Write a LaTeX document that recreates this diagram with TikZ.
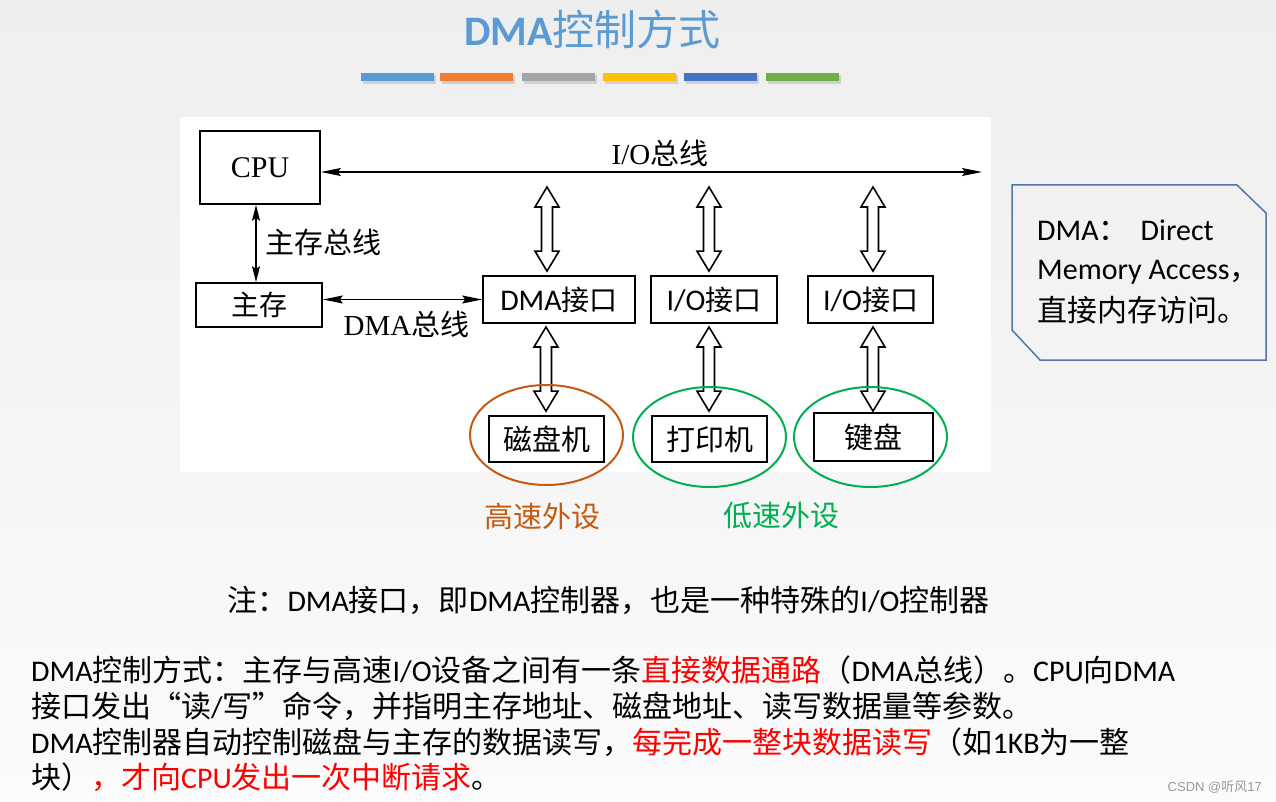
\documentclass[tikz,border=0pt]{standalone}
\usepackage{fontspec}
\setmainfont{Noto Sans CJK SC}
\newfontfamily\latfont{Carlito}
\newfontfamily\serfont{Liberation Serif}
\newfontfamily\arialfont{Liberation Sans}
\usetikzlibrary{arrows.meta,calc,shapes.geometric}
\newcommand\cLat[1]{{\latfont #1}}
\newcommand\cSer[1]{{\serfont #1}}
\newcommand\fsz[1]{\fontsize{#1pt}{#1pt}\selectfont}
\definecolor{titleblue}{RGB}{91,155,213}
\definecolor{barA}{RGB}{91,155,213}
\definecolor{barB}{RGB}{237,125,49}
\definecolor{barC}{RGB}{165,165,165}
\definecolor{barD}{RGB}{255,192,0}
\definecolor{barE}{RGB}{68,114,196}
\definecolor{barF}{RGB}{112,173,71}
\definecolor{hsorange}{RGB}{197,90,17}
\definecolor{lsgreen}{RGB}{0,176,80}
\definecolor{callblue}{RGB}{80,118,168}
\definecolor{bgtop}{RGB}{238,238,238}
\definecolor{bgbot}{RGB}{251,251,251}
\newcommand\hollowarrow[2]{%
  \draw[hollow] let \p1=#1, \p2=#2 in
    (\x1,\y1) -- (\x1+12pt,\y1-20pt) -- (\x1+5.5pt,\y1-20pt) -- (\x1+5.5pt,\y2+20pt)
    -- (\x1+12pt,\y2+20pt) -- (\x1,\y2) -- (\x1-12pt,\y2+20pt) -- (\x1-5.5pt,\y2+20pt)
    -- (\x1-5.5pt,\y1-20pt) -- (\x1-12pt,\y1-20pt) -- cycle;}
\tikzset{
  box/.style={draw, line width=1.7pt, inner sep=0pt, fill=white},
  txt/.style={inner sep=0pt},
  biarrow/.style={line width=1.4pt,
    {Stealth[length=20pt,width=8pt,inset=3pt]}-{Stealth[length=20pt,width=8pt,inset=3pt]}},
  vbiarrow/.style={line width=1.4pt,
    {Stealth[length=16pt,width=8pt,inset=3pt]}-{Stealth[length=16pt,width=8pt,inset=3pt]}},
  hollow/.style={draw, line width=1.6pt, fill=white, line join=miter},
  periph/.style={ellipse, draw, line width=2pt, inner sep=0pt, minimum width=153pt, minimum height=100pt},
}
\begin{document}
\begin{tikzpicture}[x=1pt,y=-1pt]
\useasboundingbox (0,0) rectangle (1276,802);
\shade[top color=bgtop, bottom color=bgbot] (0,0) rectangle (1276,802);

% title
\node[txt, text=titleblue] (title) at (592.5,29) {\fsz{42}{\bfseries\cLat{DMA}}控制方式};
\foreach \xa/\col in {361/barA,440/barB,522/barC,603/barD,684/barE,766/barF}{
  \fill[black, opacity=0.13] (\xa+1.5,75.5) rectangle ++(73,8.5);
  \fill[\col] (\xa,73) rectangle ++(73,8);
}

% diagram panel
\fill[white] (180,117) rectangle (991,472);

% boxes
\node[box, minimum width=120pt, minimum height=73pt] (cpu) at (260,167.5) {\cSer{\fsz{30}CPU}};
\node[box, minimum width=126pt, minimum height=44pt] (mem) at (259,305) {\fsz{28}主存};
\node[box, minimum width=152pt, minimum height=47pt] (dmai) at (559,299.5) {\fsz{28}\cLat{\fsz{30}DMA}接口};
\node[box, minimum width=126pt, minimum height=47pt] (io1) at (714,299.5) {\fsz{28}\cLat{\fsz{30}I/O}接口};
\node[box, minimum width=125pt, minimum height=47pt] (io2) at (870.5,299.5) {\fsz{28}\cLat{\fsz{30}I/O}接口};
\node[box, minimum width=115pt, minimum height=46pt] (disk) at (546.5,439) {\fsz{29}磁盘机};
\node[box, minimum width=115pt, minimum height=46pt] (prn) at (709.5,439) {\fsz{29}打印机};
\node[box, minimum width=119pt, minimum height=48pt] (kbd) at (873.5,437) {\fsz{29}键盘};

% buses
\coordinate (busend) at (982,172);
\draw[biarrow] (cpu.east |- busend) -- (busend);
\node[txt] (busl) at (660,153) {\fsz{29}\cSer{I/O}总线};
\draw[vbiarrow] ([xshift=-4pt]cpu.south) -- ([xshift=-4pt]cpu.south |- mem.north);
\node[txt] (mbl) at (323.5,242) {\fsz{29}主存总线};
\draw[biarrow] (mem.east |- dmai.west) -- (dmai.west);
\node[txt] (dbl) at (406.5,324) {\fsz{29}\cSer{DMA}总线};

% hollow arrows
\coordinate (u1) at (547,187);
\coordinate (u2) at (709,187);
\coordinate (u3) at (873,187);
\hollowarrow{(u1)}{($(dmai.north -| u1)+(0pt,4pt)$)}
\hollowarrow{(u2)}{($(io1.north -| u2)+(0pt,4pt)$)}
\hollowarrow{(u3)}{($(io2.north -| u3)+(0pt,4pt)$)}
\coordinate (l1) at (546,327);
\coordinate (l2) at (709,327);
\coordinate (l3) at (873,327);
\hollowarrow{(l1)}{($(disk.north -| l1)+(0pt,4pt)$)}
\hollowarrow{(l2)}{($(prn.north -| l2)+(0pt,4pt)$)}
\hollowarrow{(l3)}{($(kbd.north -| l3)+(0pt,1pt)$)}

% ellipses
\node[periph, draw=hsorange] (e1) at (546.5,435) {};
\node[periph, draw=lsgreen] (e2) at (709.5,437) {};
\node[periph, draw=lsgreen] (e3) at (870.5,437) {};
\node[txt, text=hsorange] (hs) at (542.5,516) {\fsz{29}高速外设};
\node[txt, text=lsgreen] (ls) at (781.5,516) {\fsz{29}低速外设};

% callout
\draw[callblue, line width=1.5pt, line join=miter]
  (1012,185) -- (1237,185) -- (1266,213) -- (1266,360) -- (1040,360) -- (1012,330) -- cycle;
\node[txt, anchor=west] (c1) at (1037,230) {\fsz{30}\cLat{DMA}：\hspace{12pt}\cLat{Direct}};
\node[txt, anchor=west] (c2) at (1037,272) {\fsz{30}\cLat{Memory Access}，};
\node[txt, anchor=west] (c3) at (1037,310) {\fsz{30}直接内存访问。};

% notes
\node[txt] (note) at (608.5,600) {\fsz{30}注：\cLat{DMA}接口，即\cLat{DMA}控制器，也是一种特殊的\cLat{I/O}控制器};
\node[txt, anchor=west] (t1) at (31,670) {\fsz{30}\cLat{DMA}控制方式：主存与高速\cLat{I/O}设备之间有一条\textcolor{red}{直接数据通路}（\cLat{DMA}总线）。\cLat{CPU}向\cLat{DMA}};
\node[txt, anchor=west] (t2) at (31,706) {\fsz{30}接口发出“读\cLat{/}写”命令，并指明主存地址、磁盘地址、读写数据量等参数。};
\node[txt, anchor=west] (t3) at (31,742) {\fsz{30}\cLat{DMA}控制器自动控制磁盘与主存的数据读写，\textcolor{red}{每完成一整块数据读写}（如\cLat{1KB}为一整};
\node[txt, anchor=west] (t4) at (31,777) {\fsz{30}块）\textcolor{red}{，才向\cLat{CPU}发出一次中断请求}。};
\node[txt, anchor=east, text=black!40] (csdn) at (1262,787) {\fsz{13}\arialfont CSDN @{\rmfamily 听风}17};
\end{tikzpicture}
\end{document}
